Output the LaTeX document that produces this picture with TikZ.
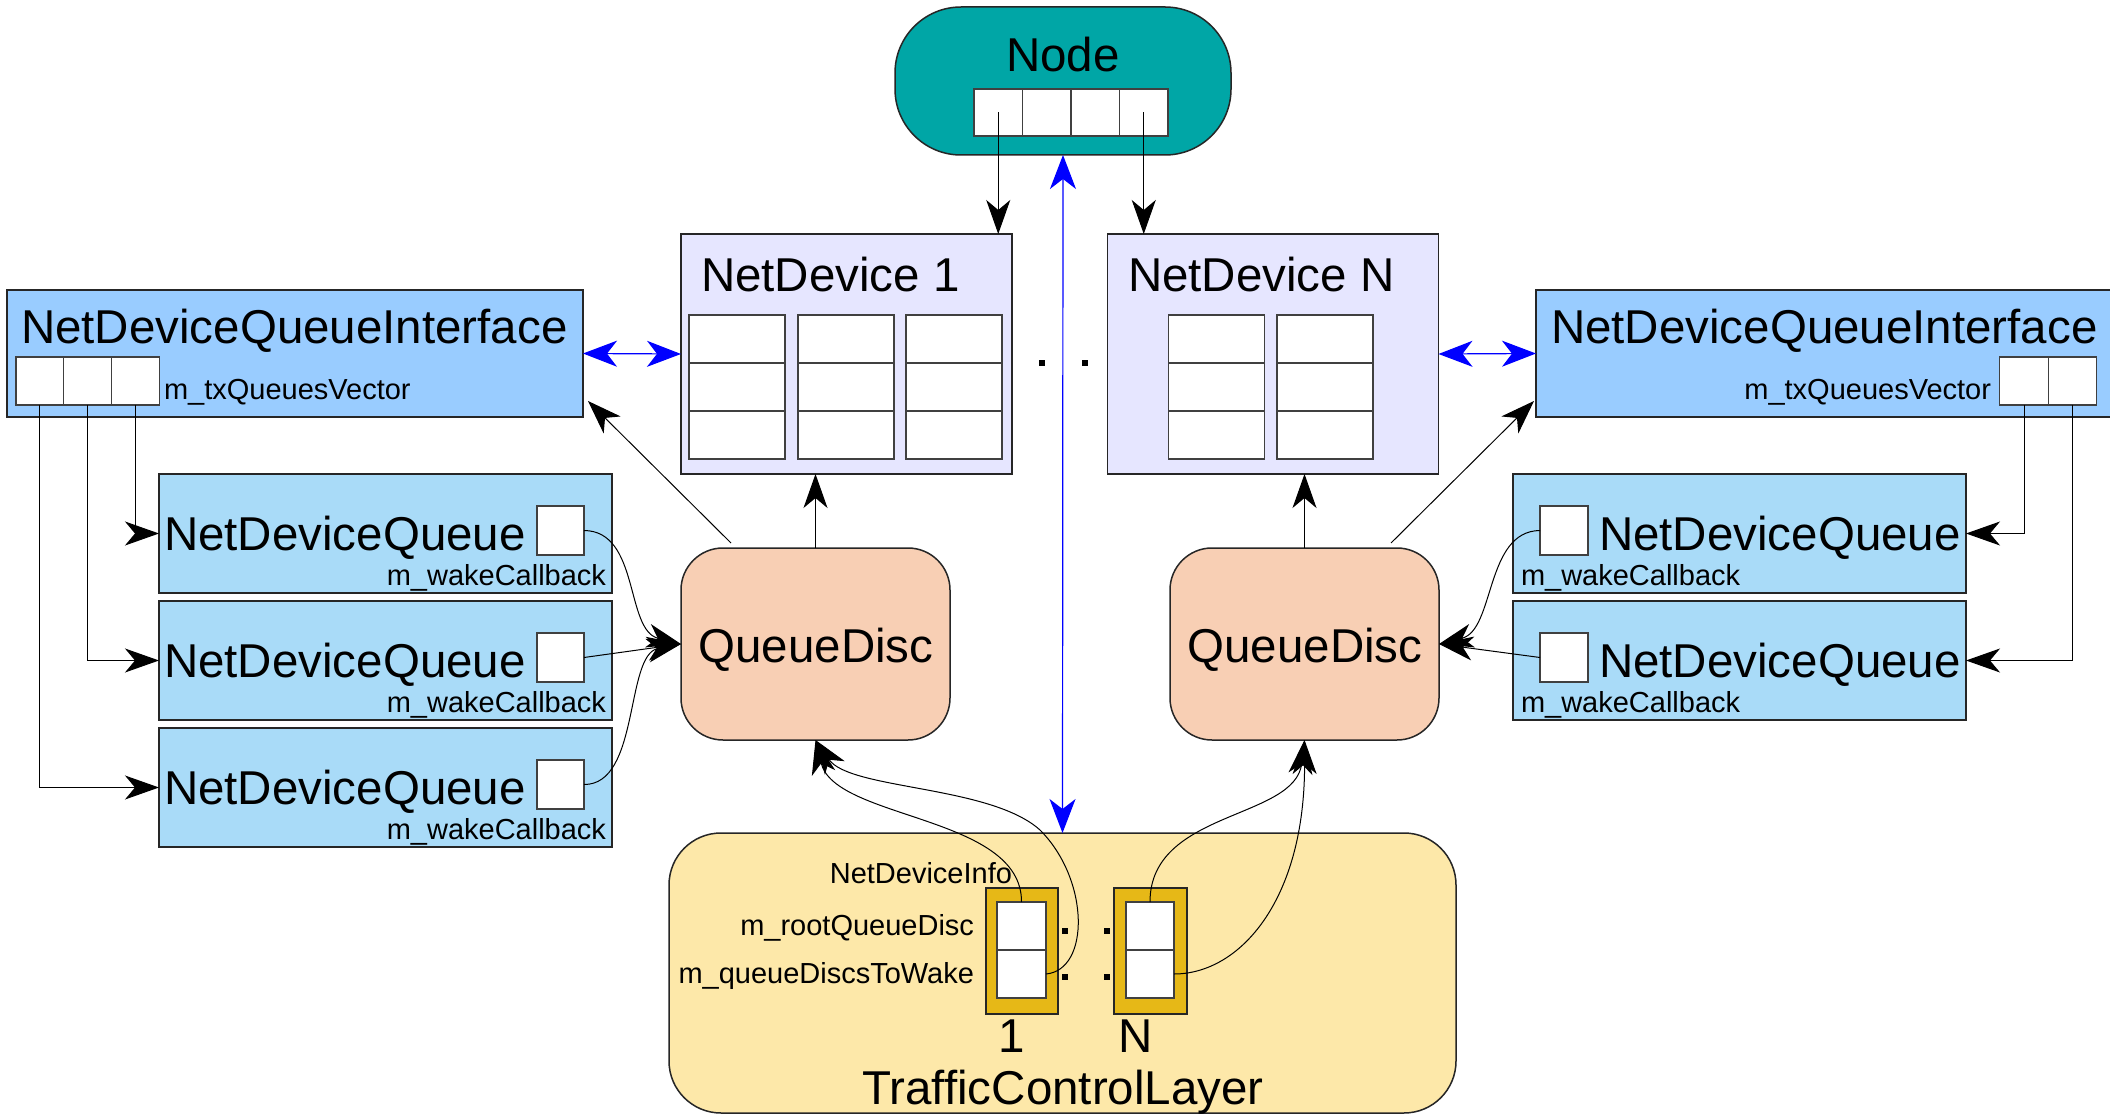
\documentclass[tikz,border=0pt]{standalone}
\usepackage{fontspec}
\setmainfont{Liberation Sans}
\usetikzlibrary{arrows.meta,calc}
\definecolor{nodeteal}{HTML}{00A6A6}
\definecolor{ndfill}{HTML}{E6E6FF}
\definecolor{ndqifill}{HTML}{99CCFF}
\definecolor{ndqfill}{HTML}{A9DBF8}
\definecolor{qdfill}{HTML}{F8CFB4}
\definecolor{tclfill}{HTML}{FDE8A9}
\definecolor{ndigold}{HTML}{E6B817}
\newcommand\fbig{\fontsize{23.75pt}{28pt}\selectfont}
\newcommand\fsmall{\fontsize{14.5pt}{17pt}\selectfont}
\begin{document}
\begin{tikzpicture}[x=0.5pt,y=-0.5pt,
  box/.style={draw=black!85, line width=0.75pt, inner sep=0pt, outer sep=0pt},
  cellbox/.style={draw=black!75, fill=white, line width=0.6pt, inner sep=0pt, outer sep=0pt},
  lbl/.style={inner sep=0pt, outer sep=0pt},
  arr/.style={-{Stealth[length=17pt,width=12pt,inset=5pt]}, line width=0.5pt},
  barr/.style={{Stealth[length=17pt,width=13pt,inset=5pt]}-{Stealth[length=17pt,width=13pt,inset=5pt]}, blue, line width=0.6pt},
  dotbox/.style={fill=black, inner sep=0pt, outer sep=0pt, minimum size=3.3pt}
]
\useasboundingbox (0,0) rectangle (2110,1117);
\fill[white] (0,0) rectangle (2110,1117);

% ---- Node
\node[box, fill=nodeteal, rounded corners=33pt, minimum width=168pt, minimum height=74pt] (node) at (1063,81) {};
\node[lbl, anchor=base] (nodetxt) at (1063,72) {\fbig Node};
\foreach \i/\x in {1/998.25,2/1046.75,3/1095.25,4/1143.75}
  \node[cellbox, minimum width=24.25pt, minimum height=23.5pt] (nc\i) at (\x,112.5) {};

% ---- NetDevice 1
\node[box, fill=ndfill, minimum width=165.5pt, minimum height=120pt] (nd1) at (846.5,354) {};
\node[lbl, anchor=base west] (nd1txt) at (701,292) {\fbig NetDevice 1};
\foreach \c/\x in {1/737,2/846,3/954}
  \foreach \r/\y in {1/339,2/387,3/435}
    \node[cellbox, minimum width=48pt, minimum height=24pt] (nd1c\c\r) at (\x,\y) {};

% ---- NetDevice N
\node[box, fill=ndfill, minimum width=165.5pt, minimum height=120pt] (ndN) at (1273,354) {};
\node[lbl, anchor=base west] (ndNtxt) at (1128,292) {\fbig NetDevice N};
\foreach \c/\x in {1/1216.5,2/1325}
  \foreach \r/\y in {1/339,2/387,3/435}
    \node[cellbox, minimum width=48pt, minimum height=24pt] (ndNc\c\r) at (\x,\y) {};

\node[dotbox, minimum size=3pt] (ddot1) at (1042,363) {};
\node[dotbox, minimum size=3pt] (ddot2) at (1085,363) {};

% ---- NetDeviceQueueInterface left
\node[box, fill=ndqifill, minimum width=288pt, minimum height=63.5pt] (ndqiL) at (295,353.5) {};
\node[lbl, anchor=base west] (ndqiLtxt) at (21,344) {\fbig NetDeviceQueueInterface};
\foreach \i/\x in {1/39.85,2/87.55,3/135.25}
  \node[cellbox, minimum width=23.85pt, minimum height=24pt] (ciL\i) at (\x,381) {};
\node[lbl, anchor=base west] (txvL) at (164,400) {\fsmall m\_txQueuesVector};

% ---- NetDeviceQueueInterface right
\node[box, fill=ndqifill, minimum width=292pt, minimum height=63.5pt] (ndqiR) at (1828,353.5) {};
\node[lbl, anchor=base west] (ndqiRtxt) at (1551,344) {\fbig NetDeviceQueueInterface};
\node[cellbox, minimum width=24.25pt, minimum height=24pt] (ciR1) at (2024,381) {};
\node[cellbox, minimum width=24.25pt, minimum height=24pt] (ciR2) at (2072.5,381) {};
\node[lbl, anchor=base east] (txvR) at (1991,400) {\fsmall m\_txQueuesVector};

% ---- NetDeviceQueues left
\node[box, fill=ndqfill, minimum width=226.5pt, minimum height=59.5pt] (ndqL1) at (385.5,533.5) {};
\node[lbl, anchor=base west] (ndqL1t) at (164,550) {\fbig NetDeviceQueue};
\node[cellbox, minimum width=23.5pt, minimum height=24.5pt] (sqL1) at (560.5,530.5) {};
\node[lbl, anchor=base east] (cbL1) at (606,585) {\fsmall m\_wakeCallback};

\node[box, fill=ndqfill, minimum width=226.5pt, minimum height=59.5pt] (ndqL2) at (385.5,660.5) {};
\node[lbl, anchor=base west] (ndqL2t) at (164,677) {\fbig NetDeviceQueue};
\node[cellbox, minimum width=23.5pt, minimum height=24.5pt] (sqL2) at (560.5,657.5) {};
\node[lbl, anchor=base east] (cbL2) at (606,712) {\fsmall m\_wakeCallback};

\node[box, fill=ndqfill, minimum width=226.5pt, minimum height=59.5pt] (ndqL3) at (385.5,787.5) {};
\node[lbl, anchor=base west] (ndqL3t) at (164,804) {\fbig NetDeviceQueue};
\node[cellbox, minimum width=23.5pt, minimum height=24.5pt] (sqL3) at (560.5,784.5) {};
\node[lbl, anchor=base east] (cbL3) at (606,839) {\fsmall m\_wakeCallback};

% ---- NetDeviceQueues right
\node[box, fill=ndqfill, minimum width=226.5pt, minimum height=59.5pt] (ndqR1) at (1739.5,533.5) {};
\node[cellbox, minimum width=24pt, minimum height=24.5pt] (sqR1) at (1564,530.5) {};
\node[lbl, anchor=base west] (ndqR1t) at (1599,550) {\fbig NetDeviceQueue};
\node[lbl, anchor=base west] (cbR1) at (1521,585) {\fsmall m\_wakeCallback};

\node[box, fill=ndqfill, minimum width=226.5pt, minimum height=59.5pt] (ndqR2) at (1739.5,660.5) {};
\node[cellbox, minimum width=24pt, minimum height=24.5pt] (sqR2) at (1564,657.5) {};
\node[lbl, anchor=base west] (ndqR2t) at (1599,677) {\fbig NetDeviceQueue};
\node[lbl, anchor=base west] (cbR2) at (1521,712) {\fsmall m\_wakeCallback};

% ---- QueueDiscs
\node[box, fill=qdfill, rounded corners=21pt, minimum width=134.5pt, minimum height=96pt] (qd1) at (815.5,644) {};
\node[lbl, anchor=base] (qd1t) at (816,662) {\fbig QueueDisc};
\node[box, fill=qdfill, rounded corners=21pt, minimum width=134.5pt, minimum height=96pt] (qd2) at (1304.5,644) {};
\node[lbl, anchor=base] (qd2t) at (1305,662) {\fbig QueueDisc};

% ---- TrafficControlLayer
\node[box, fill=tclfill, rounded corners=26pt, minimum width=393.5pt, minimum height=140pt] (tcl) at (1062.5,973) {};
\node[lbl, anchor=base] (tclt) at (1063,1104) {\fbig TrafficControlLayer};
\node[box, fill=ndigold, minimum width=36.15pt, minimum height=63pt] (ndi1) at (1022,951) {};
\node[cellbox, minimum width=24.5pt, minimum height=24pt] (ndi1a) at (1021.5,926) {};
\node[cellbox, minimum width=24.5pt, minimum height=24pt] (ndi1b) at (1021.5,974) {};
\node[box, fill=ndigold, minimum width=36.5pt, minimum height=63pt] (ndi2) at (1150.5,951) {};
\node[cellbox, minimum width=24pt, minimum height=24pt] (ndi2a) at (1150,926) {};
\node[cellbox, minimum width=24pt, minimum height=24pt] (ndi2b) at (1150,974) {};
\node[dotbox] (tdot1) at (1065,931) {};
\node[dotbox] (tdot2) at (1107,931) {};
\node[dotbox] (tdot3) at (1065,977) {};
\node[dotbox] (tdot4) at (1107,977) {};
\node[lbl, anchor=base] (one) at (1012,1052) {\fbig 1};
\node[lbl, anchor=base] (enn) at (1135.5,1052) {\fbig N};
\node[lbl, anchor=base east] (ndit) at (1012,883) {\fsmall NetDeviceInfo};
\node[lbl, anchor=base east] (rqdt) at (974,935) {\fsmall m\_rootQueueDisc};
\node[lbl, anchor=base east] (qdwt) at (974,983) {\fsmall m\_queueDiscsToWake};

% ---- connectors
\draw[arr] (nc1.center) -- (nc1.center |- nd1.north);
\draw[arr] (nc4.center) -- (nc4.center |- ndN.north);
\draw[barr] (node.south) -- (tcl.north);
\draw[barr] (ndqiL.east) -- (nd1.west);
\draw[barr] (ndN.east) -- (ndqiR.west);
\draw[arr] (qd1.north) -- (qd1.north |- nd1.south);
\draw[arr] (qd2.north) -- (qd2.north |- ndN.south);
\draw[arr] ($(qd1.north west)+(50,-5)$) -- ($(ndqiL.south east)+(5,-16)$);
\draw[arr] ($(qd2.north east)+(-48,-5)$) -- ($(ndqiR.south west)+(-2,-16)$);

\draw[arr] (ciL3.south) |- (ndqL1.west);
\draw[arr] (ciL2.south) |- (ndqL2.west);
\draw[arr] (ciL1.south) |- (ndqL3.west);
\draw[arr] (ciR1.south) |- (ndqR1.east);
\draw[arr] (ciR2.south) |- (ndqR2.east);

\draw[arr] (sqL1.east) .. controls (640,531) and (625,630) .. (qd1.west);
\draw[arr] (sqL2.east) -- (qd1.west);
\draw[arr] (sqL3.east) .. controls (640,785) and (625,655) .. (qd1.west);
\draw[arr] (sqR1.west) .. controls (1485,531) and (1495,630) .. (qd2.east);
\draw[arr] (sqR2.west) -- (qd2.east);

\draw[arr] (ndi1a.north) .. controls (1022,815) and (835,820) .. (qd1.south);
\draw[arr] (ndi1b.east) .. controls (1090,970) and (1090,880) .. (1040,830) .. controls (990,785) and (850,790) .. (qd1.south);
\draw[arr] (ndi2a.north) .. controls (1150,810) and (1295,820) .. (qd2.south);
\draw[arr] (ndi2b.east) .. controls (1240,974) and (1305,900) .. (qd2.south);
\end{tikzpicture}
\end{document}
